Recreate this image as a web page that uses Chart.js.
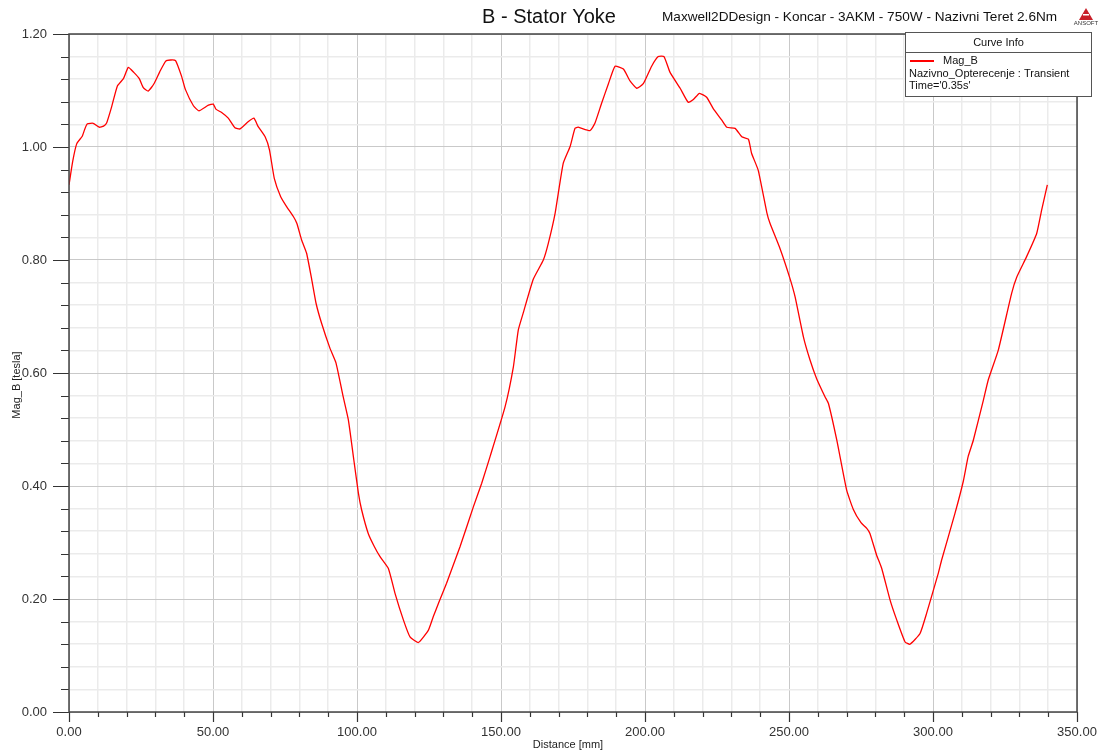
<!DOCTYPE html>
<html>
<head>
<meta charset="utf-8">
<script src="https://cdn.jsdelivr.net/npm/chart.js@4/dist/chart.umd.min.js"></script>
<style>
    html, body { margin: 0; padding: 0; background: #fff; }
    #wrap { width: 1102px; height: 754px; position: relative; }
</style>
</head>
<body>
<div id="wrap"><canvas id="chart1" width="1102" height="754"></canvas></div>
<script>
// Values
const distanceMm = [
    0, 1.3, 2.7, 4.6, 5.5, 6.4, 8.4, 10.5, 12.0, 13.1, 14.8, 16.8, 18.9, 20.6, 22.5, 24.4, 25.8, 27.5, 29.5, 31.5,
    33.6, 35.3, 37.0, 39.1, 40.4, 43.2, 45.1, 48.4, 50.1, 51.0, 53.0, 55.3, 57.6, 59.4, 62.3, 64.2, 65.7, 68.1, 69.6, 71.3,
    73.5, 75.5, 77.9, 79.1, 80.8, 82.5, 84.3, 85.8, 87.7, 90.6, 92.7, 95.2, 97.0, 98.9, 100.5, 101.6, 103.9, 106.0, 108.0, 110.9,
    113.2, 116.1, 118.4, 121.3, 124.8, 126.5, 128.5, 131.1, 135.8, 140.4, 143.3, 146.2, 151.4, 154.3, 156.0, 157.7, 161.2, 164.7, 166.4, 168.8,
    171.6, 174.0, 175.7, 176.8, 180.9, 182.6, 184.9, 187.3, 189.6, 192.5, 194.8, 197.1, 199.4, 202.3, 204.6, 206.6, 208.7, 212.2, 215.0, 216.8,
    218.9, 221.4, 223.7, 226.6, 228.4, 231.3, 233.6, 235.9, 237.0, 239.3, 242.3, 243.4, 246.9, 250.3, 252.1, 255.0, 257.3, 259.6, 262.5, 263.7,
    266.6, 270.0, 272.3, 275.0, 277.0, 278.1, 280.4, 282.2, 285.1, 287.4, 290.3, 292.0, 295.5, 297.8, 301.8, 303.0, 307.6, 310.5, 312.2, 314.0,
    317.5, 319.2, 322.7, 327.3, 329.1, 332.5, 336.0, 337.7, 339.7
];
const magB = [
    0.933, 0.975, 1.006, 1.019, 1.032, 1.041, 1.042, 1.035, 1.037, 1.043, 1.071, 1.108, 1.121, 1.141, 1.132, 1.121, 1.105, 1.099, 1.112, 1.133,
    1.152, 1.154, 1.153, 1.125, 1.102, 1.073, 1.064, 1.074, 1.076, 1.067, 1.061, 1.051, 1.034, 1.032, 1.045, 1.051, 1.036, 1.018, 0.995, 0.944,
    0.912, 0.895, 0.877, 0.865, 0.835, 0.812, 0.765, 0.723, 0.688, 0.644, 0.618, 0.558, 0.517, 0.446, 0.387, 0.358, 0.316, 0.293, 0.275, 0.254,
    0.210, 0.163, 0.133, 0.123, 0.145, 0.169, 0.195, 0.228, 0.293, 0.363, 0.405, 0.452, 0.540, 0.611, 0.676, 0.706, 0.766, 0.800, 0.829, 0.883,
    0.971, 1.001, 1.033, 1.035, 1.029, 1.042, 1.077, 1.112, 1.143, 1.138, 1.117, 1.104, 1.112, 1.143, 1.160, 1.160, 1.132, 1.104, 1.079, 1.084,
    1.095, 1.088, 1.068, 1.048, 1.035, 1.033, 1.018, 1.014, 0.989, 0.959, 0.884, 0.865, 0.820, 0.768, 0.735, 0.664, 0.623, 0.590, 0.558, 0.546,
    0.481, 0.393, 0.359, 0.335, 0.325, 0.316, 0.278, 0.254, 0.198, 0.163, 0.124, 0.120, 0.139, 0.175, 0.245, 0.269, 0.351, 0.408, 0.452, 0.481,
    0.552, 0.588, 0.641, 0.741, 0.770, 0.806, 0.847, 0.888, 0.933
];

const xMin = 0, xMax = 350, xStep = 10, xMajor = 50;
const yMin = 0, yMax = 1.2, yStep = 0.04, yMajor = 0.2;

const plotTitle = 'B - Stator Yoke';
const plotSubtitle = 'Maxwell2DDesign - Koncar - 3AKM - 750W - Nazivni Teret 2.6Nm';
const xTitle = 'Distance [mm]';
const yTitle = 'Mag_B [tesla]';
const curveName = 'Mag_B';
const curveInfo = ['Nazivno_Opterecenje : Transient', "Time='0.35s'"];

const FONT = '"Liberation Sans", Arial, sans-serif';

function isMajor(v, step) {
    const r = v / step;
    return Math.abs(r - Math.round(r)) < 1e-6;
}

// extra drawing: frame, tick marks, titles, legend box, logo
const decorations = {
    id: 'decorations',
    beforeDraw(chart) {
        const c = chart.ctx;
        c.save();
        c.fillStyle = '#fff';
        c.fillRect(0, 0, chart.width, chart.height);
        c.restore();
    },
    afterDraw(chart) {
        const c = chart.ctx;
        const a = chart.chartArea;
        const xs = chart.scales.x, ys = chart.scales.y;
        c.save();

        // tick marks
        c.strokeStyle = '#333';
        c.lineWidth = 1.2;
        c.beginPath();
        xs.ticks.forEach(t => {
            const px = Math.round(xs.getPixelForValue(t.value)) + 0.5;
            const len = isMajor(t.value, xMajor) ? 10 : 5;
            c.moveTo(px, a.bottom);
            c.lineTo(px, a.bottom + len);
        });
        ys.ticks.forEach(t => {
            const py = Math.round(ys.getPixelForValue(t.value)) + 0.5;
            const len = isMajor(t.value, yMajor) ? 16 : 8;
            c.moveTo(a.left, py);
            c.lineTo(a.left - len, py);
        });
        c.stroke();

        // frame
        c.strokeStyle = '#444';
        c.lineWidth = 1.5;
        c.strokeRect(a.left, a.top, a.right - a.left, a.bottom - a.top);

        // titles
        c.fillStyle = '#111';
        c.textBaseline = 'middle';
        c.textAlign = 'center';
        c.font = '20px ' + FONT;
        c.fillText(plotTitle, 549, 17);
        c.textAlign = 'left';
        c.font = '13.6px ' + FONT;
        c.fillText(plotSubtitle, 662, 17);

        c.fillStyle = '#222';
        c.font = '11px ' + FONT;
        c.textAlign = 'center';
        c.fillText(xTitle, 568, 745);
        c.save();
        c.translate(17, 385);
        c.rotate(-Math.PI / 2);
        c.fillText(yTitle, 0, 0);
        c.restore();

        // legend box
        const bx = 905.5, by = 32.5, bw = 186, bh = 64;
        c.fillStyle = '#fff';
        c.fillRect(bx, by, bw, bh);
        c.strokeStyle = '#555';
        c.lineWidth = 1;
        c.strokeRect(bx, by, bw, bh);
        c.beginPath();
        c.moveTo(bx, by + 20);
        c.lineTo(bx + bw, by + 20);
        c.stroke();
        c.fillStyle = '#111';
        c.font = '11px ' + FONT;
        c.textAlign = 'center';
        c.fillText('Curve Info', bx + bw / 2, by + 10);
        c.strokeStyle = '#ff0000';
        c.lineWidth = 2;
        c.beginPath();
        c.moveTo(910, 61);
        c.lineTo(934, 61);
        c.stroke();
        c.textAlign = 'left';
        c.fillText(curveName, 943, 61);
        c.fillText(curveInfo[0], 909, 74);
        c.fillText(curveInfo[1], 909, 86);

        // small logo
        c.fillStyle = '#c8202a';
        c.beginPath();
        c.moveTo(1086, 8);
        c.lineTo(1079, 20);
        c.lineTo(1093, 20);
        c.closePath();
        c.fill();
        c.fillStyle = '#fff';
        c.fillRect(1083, 14, 6, 1.5);
        c.fillStyle = '#333';
        c.font = '6px ' + FONT;
        c.textAlign = 'center';
        c.fillText('ANSOFT', 1086, 23);

        c.restore();
    }
};

window.onload = function () {
    const ctx1 = document.getElementById('chart1').getContext('2d');
    const points = distanceMm.map((d, i) => ({x: d, y: magB[i]}));

    new Chart(ctx1, {
        type: 'line',
        data: {
            datasets: [{
                label: curveName,
                data: points,
                borderColor: '#ff0000',
                borderWidth: 1.3,
                pointRadius: 0,
                tension: 0.15,
                fill: false
            }]
        },
        options: {
            responsive: false,
            animation: false,
            layout: {padding: {top: 34, right: 25, left: 0, bottom: 0}},
            plugins: {legend: {display: false}, title: {display: false}, tooltip: {enabled: false}},
            scales: {
                x: {
                    type: 'linear',
                    min: xMin, max: xMax,
                    afterFit: s => { s.height = 42; s.paddingLeft = 0; s.paddingRight = 0; },
                    border: {display: false},
                    grid: {
                        drawTicks: false,
                        color: ctx => isMajor(ctx.tick.value, xMajor) ? '#c9c9c9' : '#ebebeb',
                        lineWidth: ctx => isMajor(ctx.tick.value, xMajor) ? 1 : 1.5
                    },
                    ticks: {
                        stepSize: xStep,
                        autoSkip: false,
                        maxRotation: 0,
                        padding: 13,
                        color: '#333',
                        font: {family: FONT, size: 13},
                        callback: v => isMajor(v, xMajor) ? v.toFixed(2) : ''
                    }
                },
                y: {
                    min: yMin, max: yMax,
                    afterFit: s => { s.width = 69; s.paddingTop = 0; s.paddingBottom = 0; },
                    border: {display: false},
                    grid: {
                        drawTicks: false,
                        color: ctx => isMajor(ctx.tick.value, yMajor) ? '#c9c9c9' : '#ebebeb',
                        lineWidth: ctx => isMajor(ctx.tick.value, yMajor) ? 1 : 1.5
                    },
                    ticks: {
                        stepSize: yStep,
                        autoSkip: false,
                        maxTicksLimit: 100,
                        padding: 22,
                        color: '#333',
                        font: {family: FONT, size: 13},
                        callback: v => isMajor(v, yMajor) ? v.toFixed(2) : ''
                    }
                }
            }
        },
        plugins: [decorations]
    });
};
</script>
</body>
</html>
